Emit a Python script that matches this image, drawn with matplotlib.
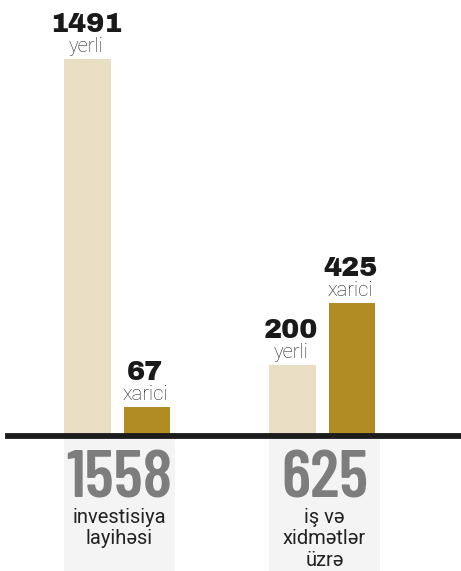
import numpy as np
import matplotlib.pyplot as plt
from matplotlib.patches import Rectangle

# data
groups = ["1558", "625"]
group_labels = ["investisiya\nlayihəsi", "iş və\nxidmətlər\nüzrə"]
yerli = [1491, 200]
xarici = [67, 425]
yerli_label = "yerli"
xarici_label = "xarici"

c_yerli = "#e9dec4"
c_xarici = "#b08c22"

P = 0.83  # the original bars are not linear; mild power scale


def fwd(v):
    v = np.asarray(v, dtype=float)
    return np.sign(v) * np.abs(v) ** P


def inv(v):
    v = np.asarray(v, dtype=float)
    return np.sign(v) * np.abs(v) ** (1 / P)


W, H = 461, 571
base_px = 436
fig = plt.figure(figsize=(W / 100, H / 100), dpi=100)
ax = fig.add_axes([0, (H - base_px) / H, 1, base_px / H])

unit = 205.0  # px between group centres
xlim_left = -117 / unit
ax.set_xlim(xlim_left, xlim_left + W / unit)
ax.set_yscale("function", functions=(fwd, inv))
ymax = 1491 * (base_px / 377) ** (1 / P)
ax.set_ylim(0, ymax)
ax.axis("off")

x = np.arange(len(groups))
bw = 46.5 / unit
off = 29.75 / unit

b1 = ax.bar(x - off, yerli, bw, color=c_yerli, zorder=2)
b2 = ax.bar(x + off, xarici, bw, color=c_xarici, zorder=2)

for bars, vals, lab in [(b1, yerli, yerli_label), (b2, xarici, xarici_label)]:
    for b, v in zip(bars, vals):
        cx = b.get_x() + b.get_width() / 2
        ax.annotate(lab, (cx, v), xytext=(-1, 5), textcoords="offset points",
                    ha="center", va="baseline", fontsize=14.5, color="#222222",
                    family="Roboto", fontweight="light")
        ax.annotate(str(v), (cx, v), xytext=(-1, 19.5), textcoords="offset points",
                    ha="center", va="baseline", fontsize=19.5, color="#1a1a1a",
                    family="Archivo Black")

# baseline
ax.axhline(0, xmin=8 / W, xmax=460 / W, color="#1c1c1c", lw=4.2, zorder=3,
           clip_on=False)

# grey boxes with totals below the line
trans = ax.get_xaxis_transform()
box_w = 111 / unit
box_left = 53 / unit
y_top = -(439 - base_px) / base_px
y_bot = -(H - base_px) / base_px
for i, (g, gl) in enumerate(zip(groups, group_labels)):
    ax.add_patch(Rectangle((i - box_left, y_bot), box_w, y_top - y_bot,
                           transform=trans, facecolor="#f4f4f4",
                           edgecolor="none", clip_on=False, zorder=1))
    cx = i - box_left + box_w / 2
    ax.text(cx, -(498 - base_px) / base_px, g, transform=trans, ha="center",
            va="baseline", fontsize=49, color="#7d7d7d", fontweight=600,
            family="Barlow Condensed", zorder=2)
    ax.text(cx, -(508 - base_px) / base_px, gl, transform=trans, ha="center",
            va="top", fontsize=14.5, color="#222222", linespacing=1.15,
            family="Roboto", zorder=2)

fig.savefig("out.png", dpi=100)
